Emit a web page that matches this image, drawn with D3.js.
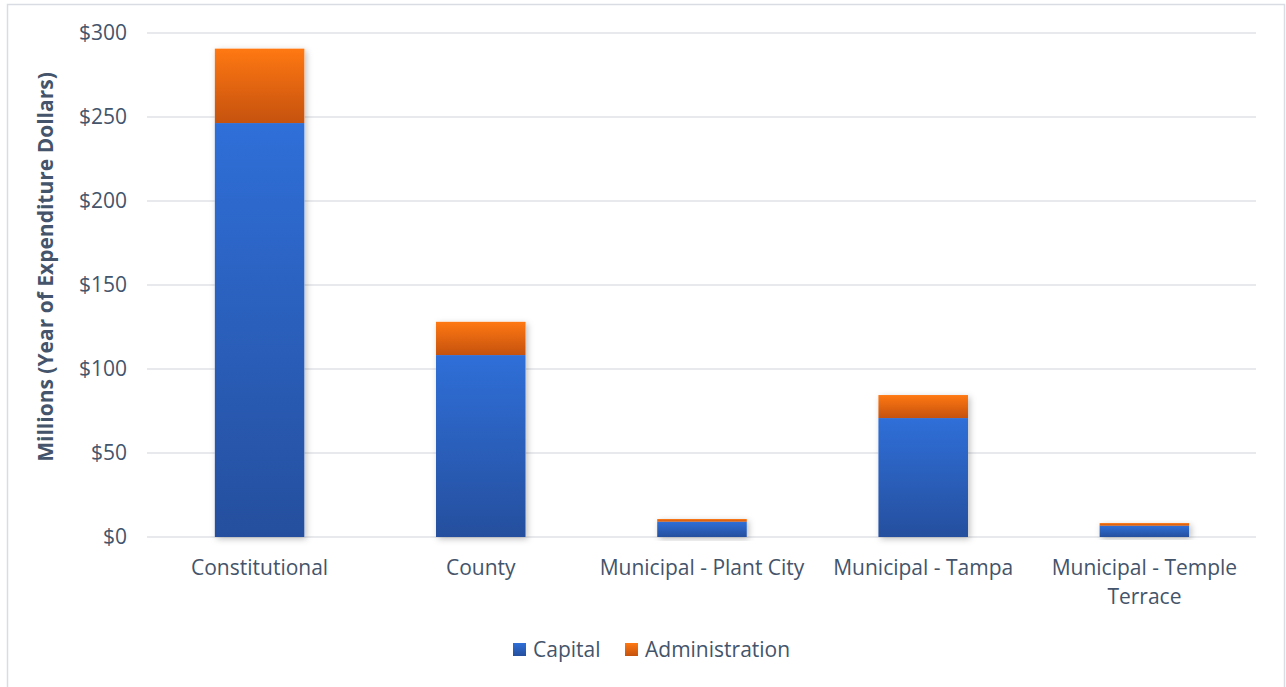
<!DOCTYPE html>
<html>
<head>
<meta charset="utf-8">
<script src="https://cdn.jsdelivr.net/npm/d3@7"></script>
<style>
  body { margin: 0; background: #fff; }
  text { font-family: "Open Sans", sans-serif; }
</style>
</head>
<body>
<svg id="chart"></svg>
<script>
var categories = ['Constitutional', 'County', 'Municipal - Plant City', 'Municipal - Tampa', 'Municipal - Temple Terrace'];
var capital = [246.4, 108.3, 9.1, 70.8, 6.7];
var administration = [44.3, 19.8, 1.6, 13.7, 1.6];
var seriesNames = ['Capital', 'Administration'];
var yTicks = [0, 50, 100, 150, 200, 250, 300];

var width = 1286, height = 687;
var margin = {top: 33, right: 30, bottom: 150, left: 147};
var textColor = '#44546a';

var svg = d3.select('#chart').attr('width', width).attr('height', height);

// outer frame
svg.append('rect')
  .attr('x', 7.5).attr('y', 4.5)
  .attr('width', width - 9).attr('height', height + 10)
  .attr('fill', 'none').attr('stroke', '#d9dde3').attr('stroke-width', 1.5);

var defs = svg.append('defs');
function grad(id, top, bottom) {
  var g = defs.append('linearGradient').attr('id', id)
    .attr('x1', 0).attr('y1', 0).attr('x2', 0).attr('y2', 1);
  g.append('stop').attr('offset', '0%').attr('stop-color', top);
  g.append('stop').attr('offset', '100%').attr('stop-color', bottom);
}
grad('gCap', '#2f6fd8', '#254f9e');
grad('gAdm', '#ff7812', '#c5520e');
var f = defs.append('filter').attr('id', 'shadow')
  .attr('x', '-20%').attr('y', '-20%').attr('width', '140%').attr('height', '140%');
f.append('feDropShadow').attr('dx', 2).attr('dy', 2).attr('stdDeviation', 3)
  .attr('flood-color', '#000').attr('flood-opacity', 0.25);

var plotW = width - margin.left - margin.right;
var plotH = 537 - margin.top;

var g = svg.append('g').attr('transform', 'translate(' + margin.left + ',' + margin.top + ')');

var x = d3.scaleBand().domain(categories).range([2, plotW - 1]).paddingInner(0.595).paddingOuter(0.2975);
var y = d3.scaleLinear().domain([0, 300]).range([plotH, 0]);

// gridlines
g.append('g').selectAll('line').data(yTicks).enter().append('line')
  .attr('x1', 0).attr('x2', plotW)
  .attr('y1', function(d) { return y(d); }).attr('y2', function(d) { return y(d); })
  .attr('stroke', '#dfe2e6').attr('stroke-width', 1.5);

// y tick labels
g.append('g').selectAll('text').data(yTicks).enter().append('text')
  .attr('x', -20).attr('y', function(d) { return y(d); })
  .attr('dy', '0.35em')
  .attr('text-anchor', 'end')
  .attr('fill', textColor)
  .style('font-size', '21px')
  .text(function(d) { return '$' + d; });

// y axis title
svg.append('text')
  .attr('transform', 'translate(53,267) rotate(-90)')
  .attr('text-anchor', 'middle')
  .attr('fill', textColor)
  .style('font-size', '21px')
  .style('font-weight', 'bold')
  .text('Millions (Year of Expenditure Dollars)');

var stackData = categories.map(function(c, i) {
  return {cat: c, Capital: capital[i], Administration: administration[i]};
});
var stack = d3.stack().keys(seriesNames)(stackData);
var fills = {Capital: 'url(#gCap)', Administration: 'url(#gAdm)'};

// shadows behind full bars
g.append('g').selectAll('rect').data(stackData).enter().append('rect')
  .attr('x', function(d) { return x(d.cat); })
  .attr('width', x.bandwidth())
  .attr('y', function(d) { return y(d.Capital + d.Administration); })
  .attr('height', function(d) { return y(0) - y(d.Capital + d.Administration); })
  .attr('fill', '#fff')
  .attr('filter', 'url(#shadow)');

stack.forEach(function(layer) {
  g.append('g').selectAll('rect').data(layer).enter().append('rect')
    .attr('x', function(d) { return x(d.data.cat); })
    .attr('width', x.bandwidth())
    .attr('y', function(d) { return y(d[1]); })
    .attr('height', function(d) { return y(d[0]) - y(d[1]); })
    .attr('fill', fills[layer.key]);
});

// x labels
var xl = g.append('g').selectAll('text').data(categories).enter().append('text')
  .attr('x', function(d) { return x(d) + x.bandwidth() / 2; })
  .attr('y', plotH + 38)
  .attr('text-anchor', 'middle')
  .attr('fill', textColor)
  .style('font-size', '21px');
xl.each(function(d) {
  var t = d3.select(this);
  var lines = d === 'Municipal - Temple Terrace' ? ['Municipal - Temple', 'Terrace'] : [d];
  lines.forEach(function(s, i) {
    t.append('tspan').attr('x', t.attr('x')).attr('dy', i ? 29 : 0).text(s);
  });
});

// legend
var legend = svg.append('g').attr('transform', 'translate(513,650)');
var lx = [0, 112];
seriesNames.forEach(function(s, i) {
  var item = legend.append('g').attr('transform', 'translate(' + lx[i] + ',0)');
  item.append('rect').attr('x', 0).attr('y', -7).attr('width', 13).attr('height', 13)
    .attr('fill', s === 'Capital' ? 'url(#gCap)' : 'url(#gAdm)');
  item.append('text').attr('x', 20).attr('y', 0).attr('dy', '0.35em')
    .attr('fill', textColor).style('font-size', '21px').text(s);
});
</script>
</body>
</html>
